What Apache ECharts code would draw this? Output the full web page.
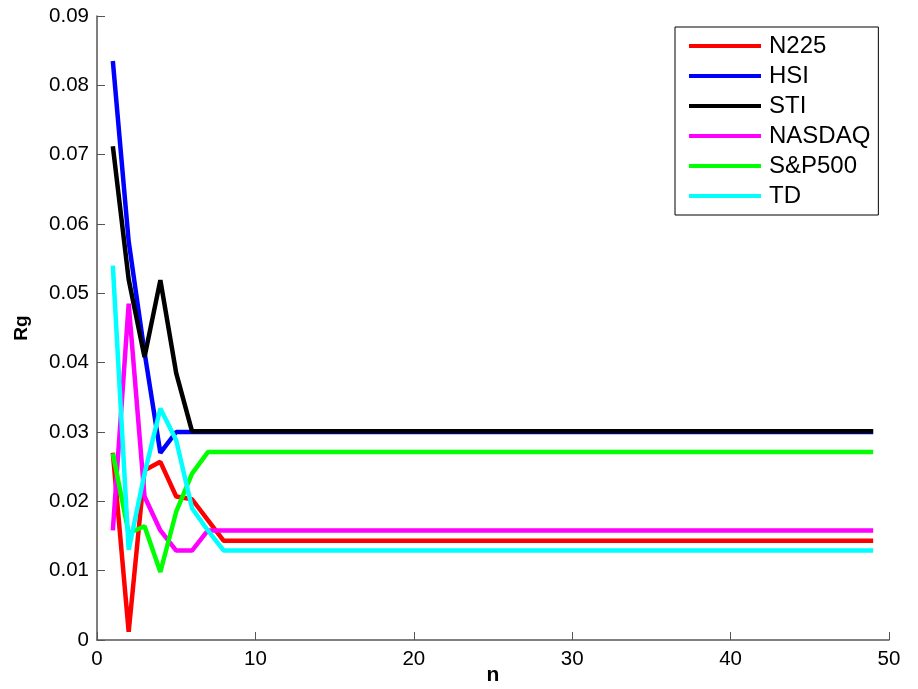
<!DOCTYPE html>
<html>
<head>
    <meta charset="utf-8">
    <title>Rg vs n</title>
    <script src="https://cdn.jsdelivr.net/npm/echarts@6/dist/echarts.min.js"></script>
    <style>
        html, body { margin: 0; padding: 0; background: #fff; }
        #chart { width: 918px; height: 689px; }
    </style>
</head>
<body>
<div id="chart"></div>
<script>
    var nValues = [];
    for (var i = 1; i <= 49; i++) nValues.push(i);

    var n225Head   = [0.0270, 0.0012, 0.0245, 0.0257, 0.0207, 0.0203, 0.0173, 0.0143];
    var hsiHead    = [0.0835, 0.0575, 0.0415, 0.0270, 0.0300, 0.0300, 0.0300, 0.0300];
    var stiHead    = [0.0712, 0.0520, 0.0408, 0.0519, 0.0385, 0.0301, 0.0301, 0.0301];
    var nasdaqHead = [0.0158, 0.0485, 0.0207, 0.0158, 0.0129, 0.0129, 0.0158, 0.0158];
    var spHead     = [0.0269, 0.0154, 0.0164, 0.0098, 0.0185, 0.0240, 0.0271, 0.0271];
    var tdHead     = [0.0540, 0.0130, 0.0240, 0.0334, 0.0288, 0.0190, 0.0158, 0.0129];

    var n225Tail = 0.0143, hsiTail = 0.0300, stiTail = 0.0301;
    var nasdaqTail = 0.0158, spTail = 0.0271, tdTail = 0.0129;

    function fill(head, tail) {
        var out = head.slice();
        while (out.length < nValues.length) out.push(tail);
        return nValues.map(function (n, k) { return [n, out[k]]; });
    }

    var seriesDefs = [
        { name: 'N225',   color: '#ff0000', data: fill(n225Head, n225Tail) },
        { name: 'HSI',    color: '#0000ff', data: fill(hsiHead, hsiTail) },
        { name: 'STI',    color: '#000000', data: fill(stiHead, stiTail) },
        { name: 'NASDAQ', color: '#ff00ff', data: fill(nasdaqHead, nasdaqTail) },
        { name: 'S&P500', color: '#00ff00', data: fill(spHead, spTail) },
        { name: 'TD',     color: '#00ffff', data: fill(tdHead, tdTail) }
    ];

    var fontName = 'Liberation Sans, Arial, sans-serif';

    var chart = echarts.init(document.getElementById('chart'));
    chart.setOption({
        animation: false,
        grid: { left: 97, right: 29, top: 16, bottom: 49, outerBoundsMode: 'none' },
        legend: {
            orient: 'vertical',
            left: 675, top: 27,
            padding: [7, 8, 7, 14],
            backgroundColor: '#fff',
            borderColor: '#000', borderWidth: 1,
            itemWidth: 72, itemHeight: 4, itemGap: 6,
            icon: 'rect',
            textStyle: { color: '#000', fontSize: 24, lineHeight: 24, fontFamily: fontName, padding: [0, 0, 0, 3] },
            data: seriesDefs.map(function (s) { return s.name; })
        },
        xAxis: {
            type: 'value', min: 0, max: 50, interval: 10,
            name: 'n', nameLocation: 'middle', nameGap: 25, nameMoveOverlap: false,
            nameTextStyle: { color: '#000', fontSize: 21, fontWeight: 'bold', fontFamily: fontName },
            axisLine: { lineStyle: { color: '#555', width: 1.5 } },
            axisTick: { inside: true, length: 8, lineStyle: { color: '#555' } },
            axisLabel: { color: '#000', fontSize: 20.5, fontFamily: fontName, margin: 9 },
            splitLine: { show: false }
        },
        yAxis: {
            type: 'value', min: 0, max: 0.09, interval: 0.01,
            name: 'Rg', nameLocation: 'middle', nameGap: 66, nameMoveOverlap: false,
            nameTextStyle: { color: '#000', fontSize: 19, fontWeight: 'bold', fontFamily: fontName },
            axisLine: { show: true, lineStyle: { color: '#555', width: 1.5 } },
            axisTick: { show: true, inside: true, length: 8, lineStyle: { color: '#555' } },
            axisLabel: {
                color: '#000', fontSize: 20.5, fontFamily: fontName, margin: 8,
                formatter: function (v) { return v === 0 ? '0' : v.toFixed(2); }
            },
            splitLine: { show: false }
        },
        series: seriesDefs.map(function (s) {
            return {
                name: s.name, type: 'line', data: s.data,
                showSymbol: false, symbol: 'none',
                lineStyle: { color: s.color, width: 4.5 },
                itemStyle: { color: s.color }
            };
        })
    });
</script>
</body>
</html>
